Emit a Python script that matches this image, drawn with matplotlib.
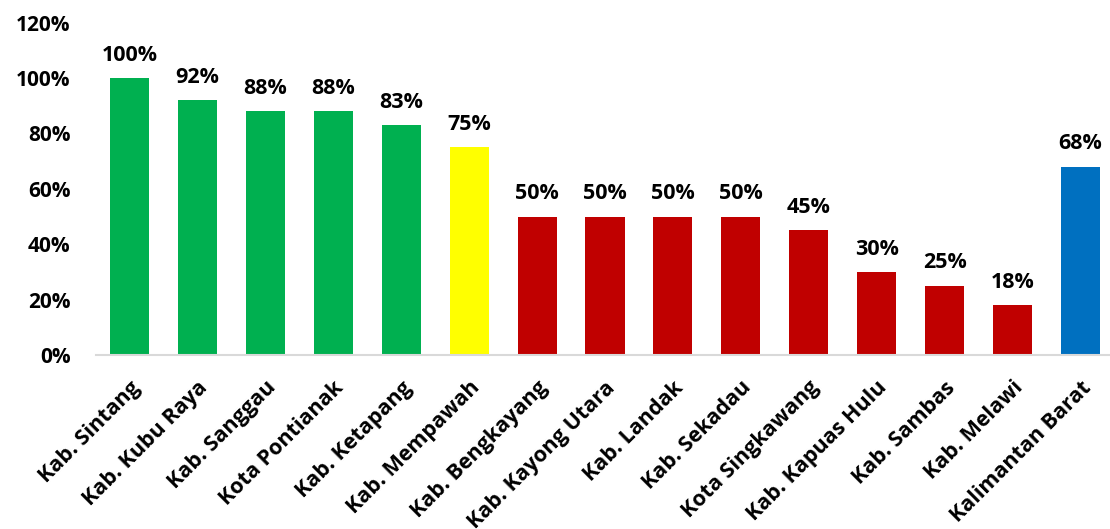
import matplotlib
matplotlib.use("Agg")
import matplotlib.pyplot as plt
from matplotlib.ticker import FuncFormatter

plt.rcParams['font.family'] = ['Open Sans', 'DejaVu Sans']

regions = [
    "Kab. Sintang", "Kab. Kubu Raya", "Kab. Sanggau", "Kota Pontianak",
    "Kab. Ketapang", "Kab. Mempawah", "Kab. Bengkayang", "Kab. Kayong Utara",
    "Kab. Landak", "Kab. Sekadau", "Kota Singkawang", "Kab. Kapuas Hulu",
    "Kab. Sambas", "Kab. Melawi", "Kalimantan Barat",
]
values = [100, 92, 88, 88, 83, 75, 50, 50, 50, 50, 45, 30, 25, 18, 68]
bar_colors = (["#00B050"] * 5 + ["#FFFF00"] + ["#C00000"] * 8 + ["#0070C0"])
y_ticks = [0, 20, 40, 60, 80, 100, 120]

fig = plt.figure(figsize=(11.10, 5.29), dpi=100)
ax = fig.add_axes([95.5 / 1110, 174 / 529, 1019 / 1110, (355 - 22.6) / 529])

x = list(range(len(regions)))
ax.bar(x, values, width=0.575, color=bar_colors, zorder=2)

for xi, v in zip(x, values):
    ax.annotate(f"{v}%", (xi, v), xytext=(0, 12.5), textcoords="offset points",
                ha="center", va="baseline", fontsize=15.5, fontweight="bold",
                color="black")

ax.set_xlim(-0.5, 14.5)
ax.set_ylim(0, 120)
ax.set_yticks(y_ticks)
ax.yaxis.set_major_formatter(FuncFormatter(lambda v, p: f"{int(v)}%"))
ax.set_xticks(x)
ax.set_xticklabels(regions, rotation=45, ha="right", rotation_mode="anchor",
                   fontsize=15.5, fontweight="bold")
for lbl in ax.get_yticklabels():
    lbl.set_fontsize(15)
    lbl.set_fontweight("bold")

ax.tick_params(axis="both", length=0)
ax.tick_params(axis="y", pad=18)
ax.tick_params(axis="x", pad=16)
for side in ["top", "right", "left"]:
    ax.spines[side].set_visible(False)
ax.spines["bottom"].set_color("#D9D9D9")
ax.spines["bottom"].set_linewidth(1.5)
ax.spines["bottom"].set_zorder(3)

fig.savefig("out.png", dpi=100)
